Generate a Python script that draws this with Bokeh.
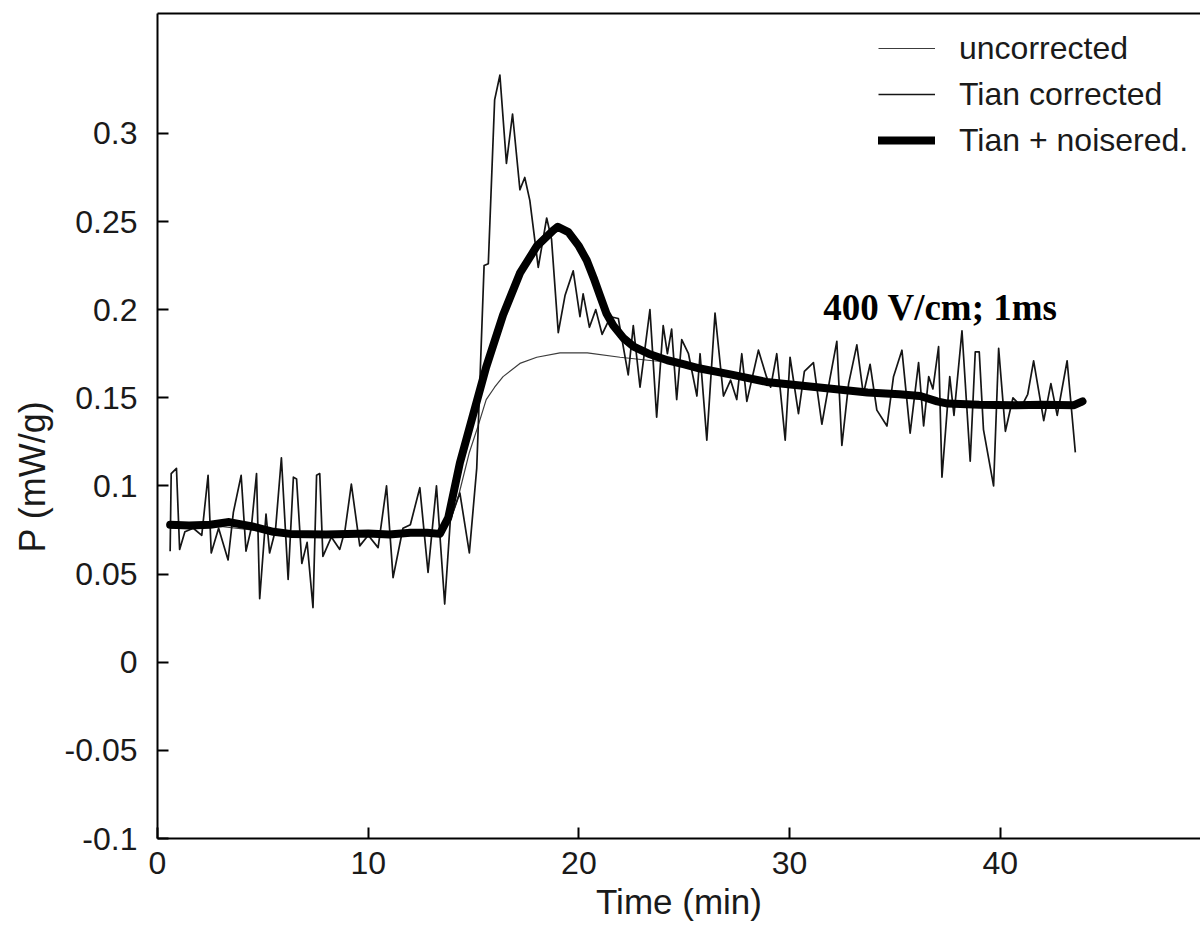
from bokeh.plotting import figure
from bokeh.models import Range1d, FixedTicker, LinearAxis, Legend, LegendItem, Label, Title
from bokeh.embed import file_html
from bokeh.resources import INLINE

# ---------------- data ----------------
# uncorrected (thin smooth line)
unc_t = [0.6, 3.0, 6.0, 10.0, 13.5, 13.9, 14.3, 14.8, 15.2, 15.6, 16.0, 16.4, 17.2, 18.0,
         19.1, 20.4, 21.95, 23.5, 24.2, 25.75, 27.3, 30.5, 33.7, 37.0, 40.6, 43.9]
unc_v = [0.076, 0.077, 0.073, 0.073, 0.073, 0.080, 0.095, 0.119, 0.1335, 0.149, 0.156, 0.162,
         0.1695, 0.173, 0.1755, 0.1755, 0.173, 0.171, 0.1705, 0.1666, 0.163, 0.157, 0.153,
         0.148, 0.1458, 0.146]

# Tian corrected (noisy line)
tian_t = [0.6, 0.65, 0.9, 1.05, 1.3, 1.7, 2.1, 2.4, 2.55, 2.9, 3.35, 3.6, 3.97, 4.2, 4.45,
          4.7, 4.85, 5.15, 5.32, 5.6, 5.88, 6.2, 6.45, 6.6, 6.85, 7.1, 7.38, 7.55, 7.7, 7.85,
          8.25, 8.65, 8.9, 9.2, 9.6, 10.0, 10.47, 10.87, 11.18, 11.65, 12.0, 12.45, 12.84,
          13.24, 13.63, 13.9, 14.35, 14.8, 15.15, 15.5, 15.7, 16.0, 16.25, 16.56, 16.85,
          17.2, 17.43, 17.67, 18.07, 18.47, 18.7, 19.02, 19.34, 19.73, 20.05, 20.2, 20.5,
          20.8, 21.1, 21.5, 21.87, 22.34, 22.58, 22.9, 23.37, 23.69, 24.0, 24.2, 24.4, 24.64,
          24.88, 25.2, 25.6, 25.75, 26.07, 26.46, 26.86, 27.2, 27.49, 27.73, 27.97, 28.52,
          28.9, 29.1, 29.39, 29.79, 30.02, 30.42, 30.7, 31.13, 31.53, 31.9, 32.24, 32.48,
          32.8, 33.19, 33.5, 33.82, 34.14, 34.62, 34.93, 35.33, 35.72, 36.12, 36.36, 36.6,
          36.8, 37.07, 37.23, 37.6, 37.8, 38.18, 38.57, 38.81, 39.0, 39.2, 39.68, 39.92,
          40.24, 40.6, 41.0, 41.3, 41.58, 42.06, 42.4, 42.7, 43.17, 43.56]
tian_v = [0.063, 0.107, 0.110, 0.064, 0.074, 0.076, 0.072, 0.106, 0.062, 0.076, 0.058, 0.085,
          0.106, 0.063, 0.076, 0.107, 0.036, 0.084, 0.062, 0.075, 0.116, 0.047, 0.105, 0.104,
          0.056, 0.068, 0.031, 0.106, 0.107, 0.060, 0.071, 0.064, 0.075, 0.101, 0.066, 0.072,
          0.065, 0.100, 0.048, 0.076, 0.078, 0.099, 0.051, 0.100, 0.033, 0.081, 0.096, 0.062,
          0.110, 0.225, 0.226, 0.319, 0.333, 0.283, 0.311, 0.268, 0.275, 0.262, 0.224, 0.252,
          0.240, 0.187, 0.208, 0.222, 0.196, 0.209, 0.190, 0.200, 0.186, 0.196, 0.195, 0.163,
          0.191, 0.156, 0.200, 0.139, 0.191, 0.175, 0.189, 0.149, 0.183, 0.175, 0.151, 0.175,
          0.126, 0.198, 0.151, 0.160, 0.149, 0.175, 0.148, 0.177, 0.162, 0.156, 0.175, 0.126,
          0.173, 0.141, 0.165, 0.170, 0.135, 0.160, 0.182, 0.123, 0.158, 0.180, 0.152, 0.169,
          0.143, 0.134, 0.162, 0.177, 0.130, 0.170, 0.134, 0.162, 0.155, 0.179, 0.105, 0.162,
          0.140, 0.188, 0.114, 0.176, 0.176, 0.132, 0.100, 0.178, 0.131, 0.150, 0.145, 0.152,
          0.171, 0.137, 0.158, 0.140, 0.171, 0.119]

# Tian + noise reduction (thick smooth line)
nr_t = [0.6, 1.5, 2.5, 3.4, 4.5, 5.5, 6.3, 8.0, 10.0, 11.0, 12.0, 12.8, 13.4, 13.8, 14.35,
        15.0, 15.6, 16.4, 17.2, 18.0, 18.78, 19.0, 19.5, 20.0, 20.37, 20.7, 21.0, 21.3,
        21.63, 22.1, 22.6, 23.3, 24.2, 25.0, 25.75, 27.3, 28.9, 30.5, 32.1, 33.7, 35.2,
        36.2, 37.0, 37.5, 39.0, 40.6, 42.0, 43.5, 43.9]
nr_v = [0.078, 0.0775, 0.078, 0.0795, 0.077, 0.074, 0.0728, 0.0725, 0.073, 0.0725, 0.0735,
        0.0735, 0.0728, 0.082, 0.113, 0.1413, 0.1675, 0.197, 0.2207, 0.236, 0.245, 0.247,
        0.244, 0.236, 0.228, 0.218, 0.208, 0.198, 0.191, 0.184, 0.179, 0.175, 0.1713, 0.169,
        0.1666, 0.163, 0.159, 0.157, 0.155, 0.153, 0.152, 0.151, 0.148, 0.1467, 0.146,
        0.1458, 0.146, 0.1458, 0.148]

series_names = ["uncorrected", "Tian corrected", "Tian + noisered."]

x_ticks = [0, 10, 20, 30, 40]
x_tick_labels = ["0", "10", "20", "30", "40"]
y_ticks = [-0.1, -0.05, 0.0, 0.05, 0.1, 0.15, 0.2, 0.25, 0.3]
y_tick_labels = ["-0.1", "-0.05", "0", "0.05", "0.1", "0.15", "0.2", "0.25", "0.3"]

x_label = "Time (min)"
y_label = "P (mW/g)"
note = "400 V/cm; 1ms"

# ---------------- figure ----------------
FONT = "Liberation Sans"

p = figure(width=1200, height=935,
           x_range=Range1d(0, 49.5), y_range=Range1d(-0.1, 0.368),
           output_backend="svg", toolbar_location=None,
           min_border_left=157, min_border_right=0, min_border_top=13, min_border_bottom=97)
p.outline_line_color = None
p.xgrid.grid_line_color = None
p.ygrid.grid_line_color = None
p.background_fill_color = "white"
p.border_fill_color = "white"

for ax in (p.xaxis[0], p.yaxis[0]):
    ax.axis_line_width = 2
    ax.axis_line_color = "black"
    ax.major_tick_line_width = 2
    ax.major_tick_line_color = "black"
    ax.major_tick_in = 11
    ax.major_tick_out = 0
    ax.minor_tick_line_color = None
    ax.major_label_text_font = FONT
    ax.major_label_text_font_size = "32px"
    ax.major_label_text_color = "#1a1a1a"

p.xaxis.ticker = FixedTicker(ticks=x_ticks)
p.xaxis.major_label_overrides = dict(zip(x_ticks, x_tick_labels))
p.xaxis.major_label_standoff = 13
p.xaxis.axis_label = x_label
p.xaxis.axis_label_text_font = FONT
p.xaxis.axis_label_text_font_size = "35px"
p.xaxis.axis_label_text_font_style = "normal"
p.xaxis.axis_label_text_color = "#1a1a1a"
p.xaxis.axis_label_standoff = 5

p.yaxis.ticker = FixedTicker(ticks=y_ticks)
p.yaxis.major_label_overrides = dict(zip(y_ticks, y_tick_labels))
p.yaxis.major_label_standoff = 20

# top frame line
top = LinearAxis(ticker=FixedTicker(ticks=[]), axis_line_width=2, axis_line_color="black",
                 major_tick_line_color=None, minor_tick_line_color=None,
                 major_label_text_font_size="0px", major_label_standoff=0,
                 major_tick_in=0, major_tick_out=0)
p.add_layout(top, "above")

# y axis title (sits below the frame centre, as in the original)
p.add_layout(Title(text=y_label, align="left", offset=286, vertical_align="bottom",
                   standoff=18, text_font=FONT, text_font_size="36px",
                   text_font_style="normal", text_color="#1a1a1a"), "left")

# ---------------- series ----------------
r_unc = p.line(unc_t, unc_v, line_width=1.2, line_color="#3c3c3c")
r_tian = p.line(tian_t, tian_v, line_width=1.7, line_color="#151515", line_join="round")
r_nr = p.line(nr_t, nr_v, line_width=8, line_color="black", line_join="round", line_cap="round")

legend = Legend(items=[LegendItem(label=series_names[0], renderers=[r_unc]),
                       LegendItem(label=series_names[1], renderers=[r_tian]),
                       LegendItem(label=series_names[2], renderers=[r_nr])],
                location=(721, 678), orientation="vertical",
                glyph_width=57, glyph_height=40, label_height=40, spacing=6,
                label_standoff=24, padding=0, margin=0,
                border_line_color=None, background_fill_alpha=0,
                label_text_font=FONT, label_text_font_size="32px",
                label_text_color="#1a1a1a")
p.add_layout(legend)

# annotation
p.add_layout(Label(x=31.6, y=0.2014, text=note, text_align="left",
                   text_baseline="alphabetic", text_font="Liberation Serif",
                   text_font_style="bold", text_font_size="37px", text_color="black"))

open("out.html", "w").write(file_html(p, INLINE))
